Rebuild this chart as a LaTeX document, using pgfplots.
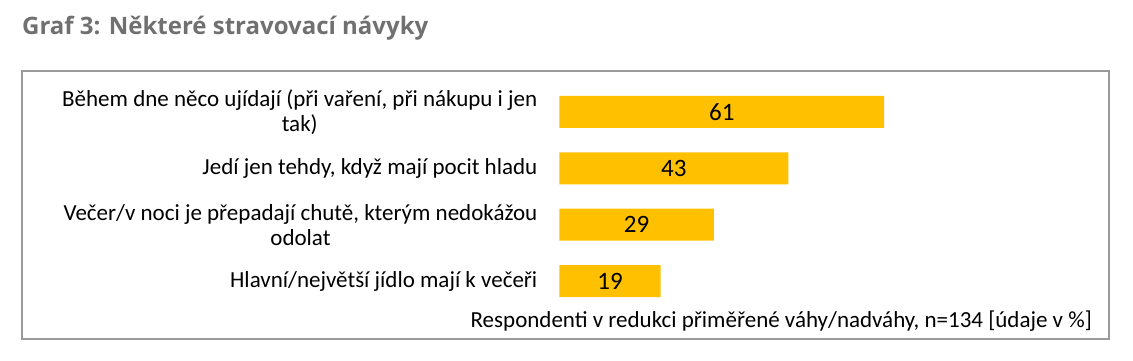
\documentclass[border=0pt]{standalone}
\usepackage{pgfplots}
\pgfplotsset{compat=1.18}
\usepackage{fontspec}
\setmainfont{Carlito}
\newfontfamily\titlefont{Open Sans}
\definecolor{bargold}{HTML}{FFC000}
\definecolor{boxgray}{HTML}{9A9A9A}
\definecolor{titlegray}{HTML}{707070}
\begin{document}
\begin{tikzpicture}[x=1pt,y=1pt]
\useasboundingbox (0,0) rectangle (1133,360);
\node[anchor=base west, inner sep=0, font=\titlefont\bfseries\fontsize{24}{28}\selectfont, text=titlegray] at (22,326) {Graf 3: Některé stravovací návyky};
\draw[boxgray, line width=2pt] (22,21) rectangle (1109,289);
\begin{axis}[
  at={(559.5pt,50.8pt)}, anchor=south west,
  scale only axis, width=532pt, height=225.4pt,
  xmin=0, xmax=100, ymin=-0.5, ymax=3.5,
  xbar, bar width=32pt,
  axis line style={draw=none},
  xtick=\empty,
  ytick={0,1,2,3},
  major tick length=0pt,
  yticklabels={Hlavní/největší jídlo mají k večeři, {Večer/v noci je přepadají chutě, kterým nedokážou\\odolat}, {Jedí jen tehdy, když mají pocit hladu}, {Během dne něco ujídají (při vaření, při nákupu i jen\\tak)}},
  yticklabel style={align=center, anchor=east, inner sep=0pt, xshift=-22pt, font=\fontsize{23}{25}\selectfont},
  point meta=x,
  nodes near coords,
  /pgf/number format/assume math mode=true,
  visualization depends on={x \as \rawx},
  every node near coord/.append style={anchor=center, shift={(axis direction cs:-\rawx/2,0)}, font=\fontsize{25}{30}\selectfont, text=black},
  clip=false
]
\addplot[fill=bargold, draw=none] coordinates {(19,0) (29,1) (43,2) (61,3)};
\end{axis}
\node[anchor=base east, inner sep=0, font=\fontsize{23}{27}\selectfont] at (1092,33) {Respondenti v redukci přiměřené váhy/nadváhy, n=134 [údaje v \%]};
\end{tikzpicture}
\end{document}
